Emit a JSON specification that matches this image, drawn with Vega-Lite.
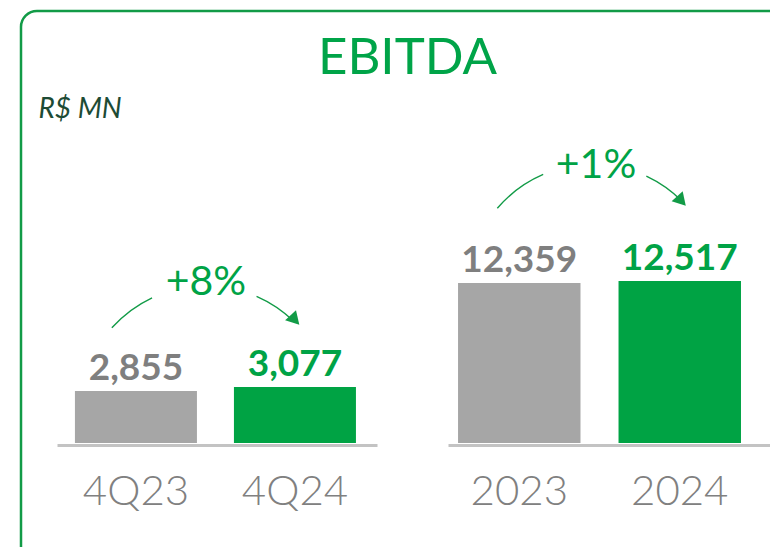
{
  "$schema": "https://vega.github.io/schema/vega-lite/v6.json",
  "autosize": {"type": "fit", "contains": "padding"},
  "width": 770,
  "height": 547,
  "padding": {"left": 21, "top": 11, "right": -20, "bottom": -20},
  "background": "white",
  "datasets": {
    "quarter": [
      {"period": "4Q23", "value": 2855, "type": "prior"},
      {"period": "4Q24", "value": 3077, "type": "current"}
    ],
    "annual": [
      {"period": "2023", "value": 12359, "type": "prior"},
      {"period": "2024", "value": 12517, "type": "current"}
    ]
  },
  "layer": [
    {
      "data": {"name": "quarter"},
      "encoding": {
        "x": {
          "field": "period",
          "type": "nominal",
          "sort": null,
          "scale": {"range": [36, 356], "paddingInner": 0.2327, "paddingOuter": 0.1226, "align": 0.46},
          "axis": {
            "orient": "bottom",
            "offset": -122,
            "title": null,
            "grid": false,
            "ticks": false,
            "tickSize": 0,
            "domain": true,
            "domainColor": "#c3c3c3",
            "domainWidth": 3,
            "labelAngle": 0,
            "labelPadding": 26,
            "labelFont": "Lato",
            "labelFontSize": 42,
            "labelFontWeight": 300,
            "labelColor": "#808080"
          }
        }
      },
      "layer": [
        {
          "mark": {"type": "bar"},
          "encoding": {
            "y": {
              "field": "value",
              "type": "quantitative",
              "scale": {"domain": [0, 23719], "range": [432, 0], "nice": false},
              "axis": {
                "orient": "left",
                "domain": false,
                "ticks": false,
                "labels": false,
                "grid": false,
                "title": "R$ MN",
                "titleAngle": 0,
                "titleAlign": "left",
                "titleBaseline": "alphabetic",
                "titleX": 17,
                "titleY": 106,
                "titleFont": "Lato",
                "titleFontStyle": "italic",
                "titleFontSize": 28,
                "titleFontWeight": 400,
                "titleColor": "#1d4b35"
              }
            },
            "color": {"condition": {"test": "datum.type === 'prior'", "value": "#a6a6a6"}, "value": "#00a344"}
          }
        },
        {
          "mark": {"type": "text", "dy": -11, "baseline": "alphabetic", "align": "center", "font": "Lato", "fontSize": 37, "fontWeight": "bold"},
          "encoding": {
            "y": {"field": "value", "type": "quantitative"},
            "text": {"field": "value", "type": "quantitative", "format": ","},
            "color": {"condition": {"test": "datum.type === 'prior'", "value": "#7f7f7f"}, "value": "#00a346"}
          }
        },
        {
          "transform": [{"filter": "datum.period === '4Q23'"}],
          "mark": {"type": "arc", "theta": -0.841, "theta2": -0.441, "radius": 127, "radius2": 125.6, "color": "#129b47"},
          "encoding": {
            "x": {"field": "period", "type": "nominal", "bandPosition": 1.074},
            "y": {"datum": 1702, "type": "quantitative"}
          }
        },
        {
          "transform": [{"filter": "datum.period === '4Q23'"}],
          "mark": {"type": "arc", "theta": 0.412, "theta2": 0.77, "radius": 127, "radius2": 125.6, "color": "#129b47"},
          "encoding": {
            "x": {"field": "period", "type": "nominal", "bandPosition": 1.074},
            "y": {"datum": 1702, "type": "quantitative"}
          }
        },
        {
          "transform": [{"filter": "datum.period === '4Q24'"}],
          "mark": {"type": "point", "shape": "triangle-right", "angle": 47, "filled": true, "size": 220, "opacity": 1, "color": "#129b47"},
          "encoding": {
            "x": {"field": "period", "type": "nominal", "bandPosition": 0.5},
            "y": {"datum": 6753, "type": "quantitative"}
          }
        },
        {
          "transform": [{"filter": "datum.period === '4Q23'"}],
          "mark": {"type": "text", "text": "+8%", "baseline": "alphabetic", "align": "center", "font": "Lato", "fontSize": 41, "fontWeight": 400, "color": "#00a346"},
          "encoding": {
            "x": {"field": "period", "type": "nominal", "bandPosition": 1.074},
            "y": {"datum": 8126, "type": "quantitative"}
          }
        }
      ]
    },
    {
      "data": {"name": "annual"},
      "encoding": {
        "x": {
          "field": "period",
          "type": "nominal",
          "sort": null,
          "scale": {"range": [427, 769], "paddingInner": 0.237, "paddingOuter": 0.184, "align": 0.17},
          "axis": {
            "orient": "bottom",
            "offset": -122,
            "title": null,
            "grid": false,
            "ticks": false,
            "tickSize": 0,
            "domain": true,
            "domainColor": "#c3c3c3",
            "domainWidth": 3,
            "labelAngle": 0,
            "labelPadding": 26,
            "labelFont": "Lato",
            "labelFontSize": 42,
            "labelFontWeight": 300,
            "labelColor": "#808080"
          }
        }
      },
      "layer": [
        {
          "mark": {"type": "bar"},
          "encoding": {
            "y": {
              "field": "value",
              "type": "quantitative",
              "scale": {"domain": [0, 33369], "range": [432, 0], "nice": false},
              "axis": {
                "orient": "left",
                "domain": false,
                "ticks": false,
                "labels": false,
                "grid": false,
                "title": "EBITDA",
                "titleAngle": 0,
                "titleAlign": "center",
                "titleBaseline": "alphabetic",
                "titleX": 386,
                "titleY": 62,
                "titleFont": "Lato",
                "titleFontSize": 51,
                "titleFontWeight": 400,
                "titleColor": "#00a448"
              }
            },
            "color": {"condition": {"test": "datum.type === 'prior'", "value": "#a6a6a6"}, "value": "#00a344"}
          }
        },
        {
          "mark": {"type": "text", "dy": -11, "baseline": "alphabetic", "align": "center", "font": "Lato", "fontSize": 37, "fontWeight": "bold"},
          "encoding": {
            "y": {"field": "value", "type": "quantitative"},
            "text": {"field": "value", "type": "quantitative", "format": ","},
            "color": {"condition": {"test": "datum.type === 'prior'", "value": "#7f7f7f"}, "value": "#00a346"}
          }
        },
        {
          "transform": [{"filter": "datum.period === '2023'"}],
          "mark": {"type": "arc", "theta": -0.864, "theta2": -0.407, "radius": 126.5, "radius2": 125.1, "color": "#129b47"},
          "encoding": {
            "x": {"field": "period", "type": "nominal", "bandPosition": 1.102},
            "y": {"datum": 11818, "type": "quantitative"}
          }
        },
        {
          "transform": [{"filter": "datum.period === '2023'"}],
          "mark": {"type": "arc", "theta": 0.438, "theta2": 0.79, "radius": 126.5, "radius2": 125.1, "color": "#129b47"},
          "encoding": {
            "x": {"field": "period", "type": "nominal", "bandPosition": 1.102},
            "y": {"datum": 11818, "type": "quantitative"}
          }
        },
        {
          "transform": [{"filter": "datum.period === '2024'"}],
          "mark": {"type": "point", "shape": "triangle-right", "angle": 48, "filled": true, "size": 220, "opacity": 1, "color": "#129b47"},
          "encoding": {
            "x": {"field": "period", "type": "nominal", "bandPosition": 0.514},
            "y": {"datum": 18693, "type": "quantitative"}
          }
        },
        {
          "transform": [{"filter": "datum.period === '2023'"}],
          "mark": {"type": "text", "text": "+1%", "baseline": "alphabetic", "align": "center", "font": "Lato", "fontSize": 41, "fontWeight": 400, "color": "#00a346"},
          "encoding": {
            "x": {"field": "period", "type": "nominal", "bandPosition": 1.127},
            "y": {"datum": 20470, "type": "quantitative"}
          }
        }
      ]
    }
  ],
  "resolve": {
    "scale": {"x": "independent", "y": "independent"},
    "axis": {"x": "independent", "y": "independent"}
  },
  "config": {
    "view": {"stroke": "#129b47", "strokeWidth": 2.5, "cornerRadius": 16},
    "axis": {"labelOverlap": false}
  }
}
